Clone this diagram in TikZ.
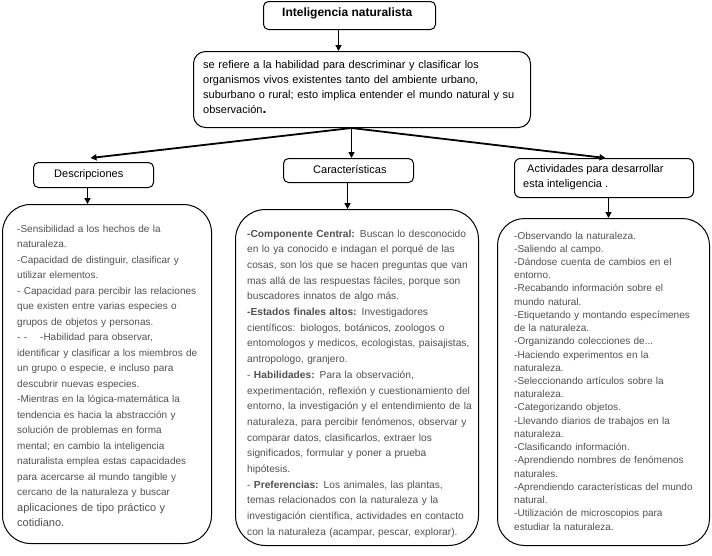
\documentclass[tikz,border=0pt]{standalone}
\usepackage{fontspec}
\setmainfont{Liberation Sans}
\usetikzlibrary{arrows.meta}
\definecolor{txtgray}{RGB}{80,80,80}
\begin{document}
\begin{tikzpicture}[x=1pt,y=-1pt,
  frame/.style={draw=black, line width=1pt, anchor=north west, inner sep=0pt, rounded corners=#1},
  arr/.style={draw=black, line width=1.8pt, -{Triangle[length=6pt,width=6pt]}},
  label/.style={anchor=base west, inner sep=0pt, text=black},
  body/.style={anchor=base west, inner sep=0pt, text width=#1, align=left, text=txtgray},
]
\useasboundingbox (0,0) rectangle (712,555);

% boxes
\node[frame=5pt, minimum width=172, minimum height=28] (title) at (263,1) {};
\node[frame=12pt, minimum width=337, minimum height=76] (defin) at (193,51) {};
\node[frame=5pt, minimum width=120, minimum height=25] (desc) at (33,162) {};
\node[frame=5pt, minimum width=130, minimum height=24] (carac) at (283,158) {};
\node[frame=6pt, minimum width=179, minimum height=39] (activ) at (514,158) {};
\node[frame=28pt, minimum width=209, minimum height=339] (box1) at (2,204) {};
\node[frame=30pt, minimum width=243, minimum height=336] (box2) at (235,209) {};
\node[frame=27pt, minimum width=212, minimum height=327] (box3) at (497,218) {};

% texts
\node[label, font={\fontsize{12}{14}\selectfont\bfseries}] (ttitle) at (282,16) {Inteligencia naturalista};
\node[body=330pt, text=black, font={\fontsize{11}{15}\selectfont}] (tdefin) at (203,68.3)
{se refiere a la habilidad para descriminar y clasificar los\\
organismos vivos existentes tanto del ambiente urbano,\\
suburbano o rural; esto implica entender el mundo natural y su\\
observación{\fontsize{14}{15}\selectfont\bfseries.}};
\node[label, font={\fontsize{11}{13}\selectfont}] (tdesc) at (54,177) {Descripciones};
\node[label, font={\fontsize{11}{13}\selectfont}] (tcarac) at (313,173) {Características};
\node[label, font={\fontsize{11}{15}\selectfont}] (tactiv1) at (527,172) {Actividades para desarrollar};
\node[label, font={\fontsize{11}{15}\selectfont}] (tactiv2) at (523,187) {esta inteligencia .};

\node[body=200pt, font={\fontsize{10}{15.5}\selectfont}] (tbox1) at (17,232)
{-Sensibilidad a los hechos de la\\
naturaleza.\\
-Capacidad de distinguir, clasificar y\\
utilizar elementos.\\
- Capacidad para percibir las relaciones\\
que existen entre varias especies o\\
grupos de objetos y personas.\\
\makebox[23pt][l]{- -}-Habilidad para observar,\\
identificar y clasificar a los miembros de\\
un grupo o especie, e incluso para\\
descubrir nuevas especies.\\
-Mientras en la lógica-matemática la\\
tendencia es hacia la abstracción y\\
solución de problemas en forma\\
mental; en cambio la inteligencia\\
naturalista emplea estas capacidades\\
para acercarse al mundo tangible y\\
cercano de la naturaleza y buscar\\
{\fontsize{11}{15.5}\selectfont aplicaciones de tipo práctico y}\\
{\fontsize{11}{15.5}\selectfont cotidiano.}};

\node[body=240pt, font={\fontsize{10.2}{15.7}\selectfont}] (tbox2) at (247,237)
{\textbf{-Componente Central:} Buscan lo desconocido\\
en lo ya conocido e indagan el porqué de las\\
cosas, son los que se hacen preguntas que van\\
mas allá de las respuestas fáciles, porque son\\
buscadores innatos de algo más.\\
\textbf{-Estados finales altos:} Investigadores\\
científicos: biologos, botánicos, zoologos o\\
entomologos y medicos, ecologistas, paisajistas,\\
antropologo, granjero.\\
- \textbf{Habilidades:} Para la observación,\\
experimentación, reflexión y cuestionamiento del\\
entorno, la investigación y el entendimiento de la\\
naturaleza, para percibir fenómenos, observar y\\
comparar datos, clasificarlos, extraer los\\
significados, formular y poner a prueba\\
hipótesis.\\
- \textbf{Preferencias:} Los animales, las plantas,\\
temas relacionados con la naturaleza y la\\
investigación científica, actividades en contacto\\
con la naturaleza (acampar, pescar, explorar).};

\node[body=200pt, font={\fontsize{10}{13.23}\selectfont}] (tbox3) at (514,239)
{-Observando la naturaleza.\\
-Saliendo al campo.\\
-Dándose cuenta de cambios en el\\
entorno.\\
-Recabando información sobre el\\
mundo natural.\\
-Etiquetando y montando especímenes\\
de la naturaleza.\\
-Organizando colecciones de...\\
-Haciendo experimentos en la\\
naturaleza.\\
-Seleccionando artículos sobre la\\
naturaleza.\\
-Categorizando objetos.\\
-Llevando diarios de trabajos en la\\
naturaleza.\\
-Clasificando información.\\
-Aprendiendo nombres de fenómenos\\
naturales.\\
-Aprendiendo características del mundo\\
natural.\\
-Utilización de microscopios para\\
estudiar la naturaleza.};

% connectors
\coordinate (split) at ([xshift=-10.5pt]defin.south);
\draw[arr] ([xshift=-11pt]title.south) -- ([xshift=-11pt]title.south |- defin.north);
\draw[arr] (split) -- ([xshift=-3pt,yshift=4pt]desc.north);
\draw[arr] (split) -- (split |- carac.north);
\draw[arr] (split) -- ([xshift=1.5pt]activ.north);
\draw[arr] ([xshift=-6pt]desc.south) -- ([xshift=-6pt]desc.south |- box1.north);
\draw[arr] ([xshift=-1pt]carac.south) -- ([xshift=-1pt]carac.south |- box2.north);
\draw[arr] ([xshift=4.5pt]activ.south) -- ([xshift=4.5pt]activ.south |- box3.north);
\end{tikzpicture}
\end{document}
